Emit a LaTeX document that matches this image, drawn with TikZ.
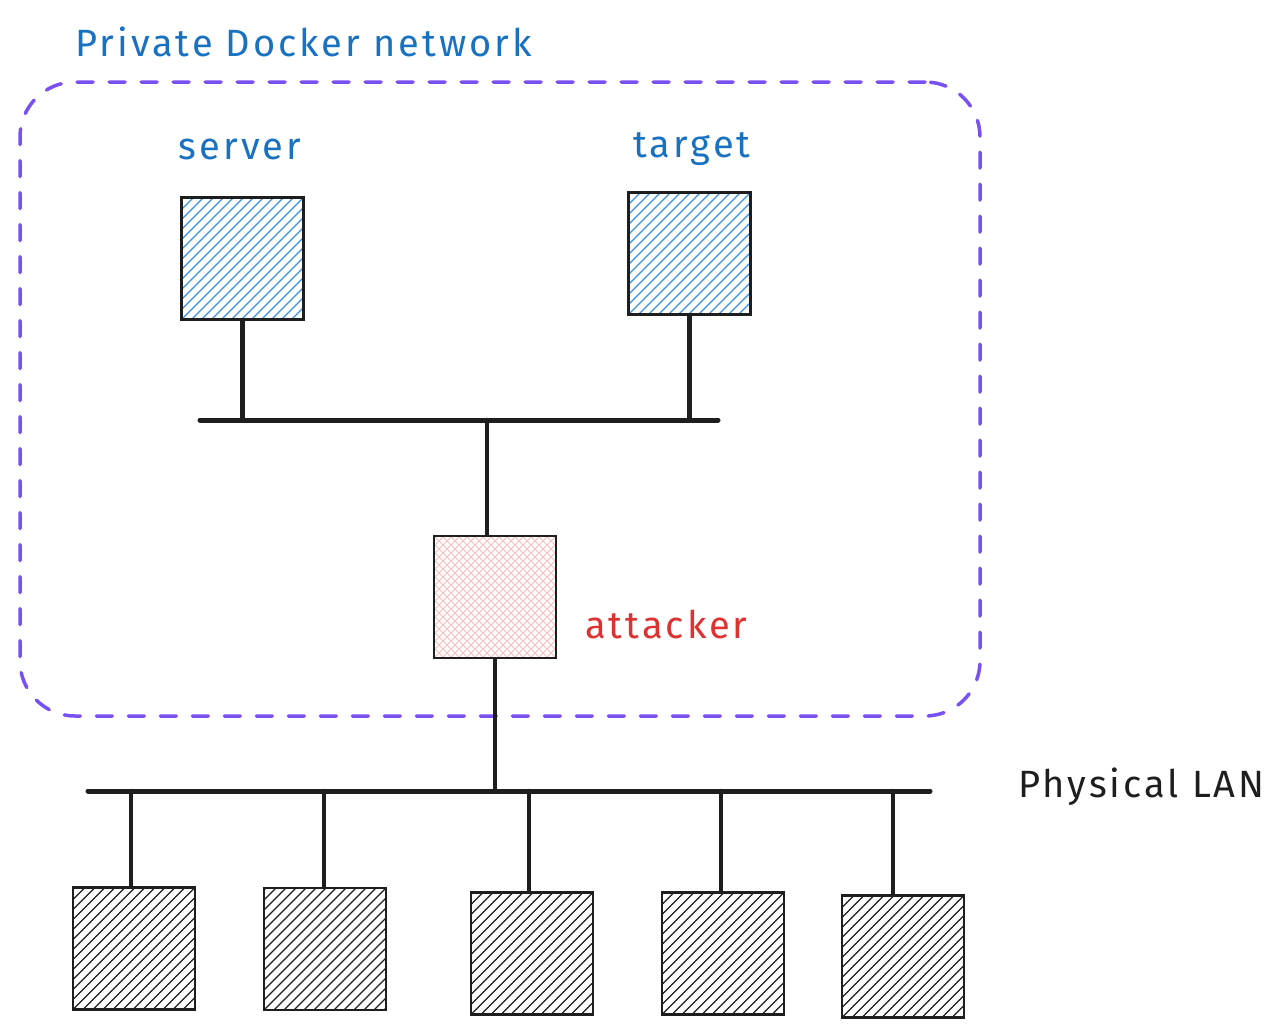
\documentclass[tikz,border=0pt]{standalone}
\usepackage{fontspec}
\setmainfont[LetterSpace=8]{Fira Sans}
\usetikzlibrary{calc}
\definecolor{ink}{HTML}{1E1E1E}
\definecolor{txtblue}{HTML}{1971C2}
\definecolor{hblue}{HTML}{3A92E6}
\definecolor{hred}{HTML}{FFBDBD}
\definecolor{txtred}{HTML}{E03131}
\definecolor{violet}{HTML}{7950F2}
\tikzset{
  hostbox/.style={draw=ink, line width=2.4pt, minimum width=122pt, minimum height=122pt, inner sep=0pt},
  hatch/.style={path picture={
      \foreach \i in {-14,...,14}
        \draw[#1, line width=1.2pt] ($(path picture bounding box.south west)+(\i*10pt,0pt)$) -- ++(140pt,140pt);
  }},
  crosshatch/.style={path picture={
      \foreach \i in {-18,...,18} {
        \draw[#1, line width=1pt] ($(path picture bounding box.south west)+(\i*8pt,0pt)$) -- ++(140pt,140pt);
        \draw[#1, line width=1pt] ($(path picture bounding box.north west)+(\i*8pt,0pt)$) -- ++(140pt,-140pt);
      }
  }},
  wire/.style={draw=ink, line width=4.5pt, line cap=round},
  bus/.style={draw=ink, line width=5pt, line cap=round},
  lbl/.style={inner sep=0pt, font=\fontsize{38}{43}\selectfont},
  netbox/.style={draw=violet, line width=3.5pt, dash pattern=on 16pt off 16pt, rounded corners=55pt, line cap=round, inner sep=0pt}
}
\begin{document}
\begin{tikzpicture}[x=1pt,y=-1pt]
\useasboundingbox (0,0) rectangle (1283,1036);
\fill[white] (0,0) rectangle (1283,1036);

% private network container
\node[netbox, minimum width=960pt, minimum height=634pt] (docker) at (500,399) {};
\node[lbl, anchor=west, text=txtblue] (title) at (75,42) {Private Docker network};

% hosts
\node[hostbox, hatch=hblue] (server) at (242.5,258.5) {};
\node[hostbox, hatch=hblue] (target) at (689.5,253.5) {};
\node[lbl, text=txtblue] (serverlbl) at (240,149) {server};
\node[lbl, text=txtblue] (targetlbl) at (692,149) {target};

\node[hostbox, crosshatch=hred] (attacker) at (495,597) {};
\node[lbl, anchor=west, text=txtred] (attackerlbl) at (585,624) {attacker};

% buses
\coordinate (b1L) at (200,420);
\coordinate (b1R) at (718,420);
\coordinate (b1M) at (487,420);
\coordinate (b2L) at (88,791);
\coordinate (b2R) at (930,791);
\draw[bus] (b1L) -- (b1R);
\draw[bus] (b2L) -- (b2R);
\node[lbl, anchor=west, text=ink] (lanlbl) at (1018,787) {Physical LAN};

\draw[wire] (server.south) -- (server.south |- b1L);
\draw[wire] (target.south) -- (target.south |- b1L);
\draw[wire] (b1M) -- (b1M |- attacker.north);
\draw[wire] (attacker.south) -- (attacker.south |- b2L);

% LAN hosts
\node[hostbox, hatch=ink] (lan1) at (134,948.5) {};
\node[hostbox, hatch=ink] (lan2) at (325,949) {};
\node[hostbox, hatch=ink] (lan3) at (532,953.5) {};
\node[hostbox, hatch=ink] (lan4) at (723,953.5) {};
\node[hostbox, hatch=ink] (lan5) at (903,956.5) {};

\draw[wire] ([xshift=-3pt]lan1.north) -- ([xshift=-3pt]lan1.north |- b2L);
\draw[wire] ([xshift=-1pt]lan2.north) -- ([xshift=-1pt]lan2.north |- b2L);
\draw[wire] ([xshift=-3pt]lan3.north) -- ([xshift=-3pt]lan3.north |- b2L);
\draw[wire] ([xshift=-2pt]lan4.north) -- ([xshift=-2pt]lan4.north |- b2L);
\draw[wire] ([xshift=-10pt]lan5.north) -- ([xshift=-10pt]lan5.north |- b2L);
\end{tikzpicture}
\end{document}
